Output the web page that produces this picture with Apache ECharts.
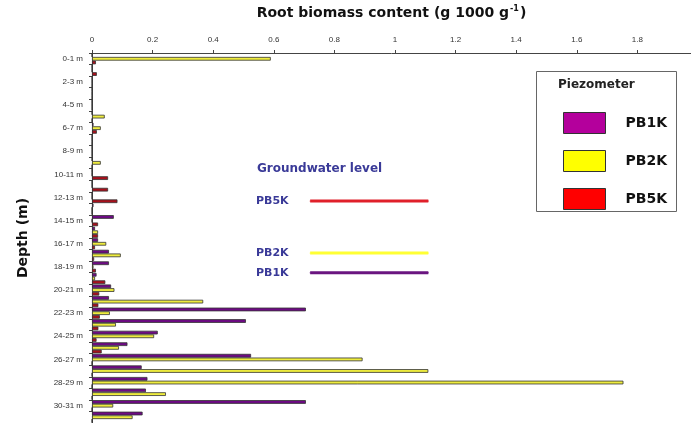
<!DOCTYPE html>
<html>
<head>
<meta charset="utf-8">
<script src="https://cdn.jsdelivr.net/npm/echarts@6/dist/echarts.min.js"></script>
<style>
html,body{margin:0;padding:0;background:#fff;}
#chart{width:691px;height:423px;}
</style>
</head>
<body>
<div id="chart"></div>
<script>
// Depth intervals (1 m each)
const depths = ["0-1 m","1-2 m","2-3 m","3-4 m","4-5 m","5-6 m","6-7 m","7-8 m","8-9 m","9-10 m",
  "10-11 m","11-12 m","12-13 m","13-14 m","14-15 m","15-16 m","16-17 m","17-18 m","18-19 m","19-20 m",
  "20-21 m","21-22 m","22-23 m","23-24 m","24-25 m","25-26 m","26-27 m","27-28 m","28-29 m","29-30 m",
  "30-31 m","31-32 m"];
// Root biomass content (g 1000 g-1)
const pb1k = [0,0,0,0,0,0,0.005,0,0,0,
  0,0,0,0.005,0.072,0.01,0.02,0.056,0.056,0.015,
  0.063,0.056,0.706,0.508,0.217,0.117,0.525,0.164,0.183,0.178,
  0.706,0.167];
const pb2k = [0.59,0,0,0,0,0.042,0.029,0,0,0.029,
  0,0,0,0,0,0.02,0.047,0.095,0.005,0.01,
  0.074,0.367,0.059,0.079,0.205,0.089,0.893,1.11,1.754,0.244,
  0.07,0.134];
const pb5k = [0.013,0.016,0,0,0,0,0.016,0,0,0,
  0.053,0.053,0.084,0,0.02,0.02,0.01,0.007,0.013,0.044,
  0.024,0.021,0.026,0.021,0.015,0.032,0,0,0,0,
  0,0];
// Groundwater levels (depth in m) and the x-extent of the key lines
const gwNames = ["PB5K","PB2K","PB1K"];
const gwDepth = [12.8, 17.3, 19.0];
const gwLineX = [0.72, 1.11];
const xTicks = [0,0.2,0.4,0.6,0.8,1,1.2,1.4,1.6,1.8];

const gwColors = {"PB5K":"#e0202a","PB2K":"#ffff33","PB1K":"#6a1580"};
const barColors = {"PB1K":"#6e0a84","PB2K":"#eeec3e","PB5K":"#a8101c"};
const legendColors = {"PB1K":"#b4009c","PB2K":"#ffff00","PB5K":"#ff0000"};

const chart = echarts.init(document.getElementById('chart'));
const font = 'DejaVu Sans';

const barSeries = [["PB1K",pb1k],["PB2K",pb2k],["PB5K",pb5k]].map(([name,arr]) => ({
  name: name, type: 'bar', data: arr,
  barGap: '0%', barCategoryGap: '4%',
  itemStyle: {color: barColors[name], borderColor: '#333', borderWidth: 0.8},
  emphasis: {disabled: true}
}));

const gwSeries = gwNames.map((n,i) => ({
  name: 'gw_' + n, type: 'line', xAxisIndex: 0, yAxisIndex: 1,
  symbol: 'circle', symbolSize: 1, silent: true,
  itemStyle: {color: gwColors[n]},
  lineStyle: {color: gwColors[n], width: 3},
  data: [
    {value: [gwLineX[0], gwDepth[i]], label: {show: true, position: 'left', distance: 21,
      formatter: n, color: '#3a3a98', fontFamily: font, fontWeight: 'bold', fontSize: 11}},
    {value: [gwLineX[1], gwDepth[i]]}
  ]
}));

chart.setOption({
  animation: false,
  backgroundColor: '#fff',
  grid: {left: 92, top: 50, right: 0, bottom: -2, containLabel: false},
  xAxis: {
    type: 'value', position: 'top', min: 0, max: 1.977, interval: 0.2,
    name: '{t|Root biomass content (g 1000 g}{s|-1}{t|)}',
    nameLocation: 'middle', nameGap: 32,
    nameTextStyle: {rich: {
      t: {fontFamily: font, fontWeight: 'bold', fontSize: 14, color: '#111'},
      s: {fontFamily: font, fontWeight: 'bold', fontSize: 8, color: '#111', verticalAlign: 'top', padding: [0,1,8,1]}
    }},
    axisLine: {show: true, lineStyle: {color: '#444', width: 1}},
    axisTick: {show: true, length: 3, lineStyle: {color: '#444'}},
    axisLabel: {show: true, margin: 9, fontSize: 8, color: '#333', fontFamily: 'Liberation Sans',
      showMaxLabel: false,
      formatter: v => (xTicks.some(t => Math.abs(t - v) < 1e-6) ? String(v) : '')},
    splitLine: {show: false}
  },
  yAxis: [{
    type: 'category', data: depths, inverse: true,
    name: 'Depth (m)', nameLocation: 'middle', nameGap: 62, nameRotate: 90,
    nameTextStyle: {fontFamily: font, fontWeight: 'bold', fontSize: 14, color: '#111'},
    axisLine: {show: true, lineStyle: {color: '#444', width: 1}},
    axisTick: {show: true, interval: 0, length: 3, alignWithLabel: false, lineStyle: {color: '#444'}},
    axisLabel: {interval: 1, fontSize: 8, margin: 9, color: '#333', fontFamily: 'Liberation Sans'},
    splitLine: {show: false}
  }, {
    type: 'value', min: 0, max: depths.length, inverse: true, show: false
  }],
  legend: {
    orient: 'vertical', left: 558, top: 107,
    itemWidth: 42, itemHeight: 21, itemGap: 16, icon: 'rect',
    selectedMode: false,
    textStyle: {fontFamily: font, fontWeight: 'bold', fontSize: 14, color: '#111', padding: [0,0,0,15]},
    data: ["PB1K","PB2K","PB5K"].map(n => ({name: n,
      itemStyle: {color: legendColors[n], borderColor: '#333', borderWidth: 1}}))
  },
  graphic: [
    {type: 'rect', shape: {x: 536.5, y: 71.5, width: 140, height: 140},
     style: {fill: 'none', stroke: '#666', lineWidth: 1}},
    {type: 'text', x: 558, y: 79,
     style: {text: 'Piezometer', fill: '#222', font: 'bold 12px "DejaVu Sans"'}},
    {type: 'text', x: 257, y: 163,
     style: {text: 'Groundwater level', fill: '#3a3a98', font: 'bold 12px "DejaVu Sans"'}}
  ],
  series: barSeries.concat(gwSeries)
});
</script>
</body>
</html>
